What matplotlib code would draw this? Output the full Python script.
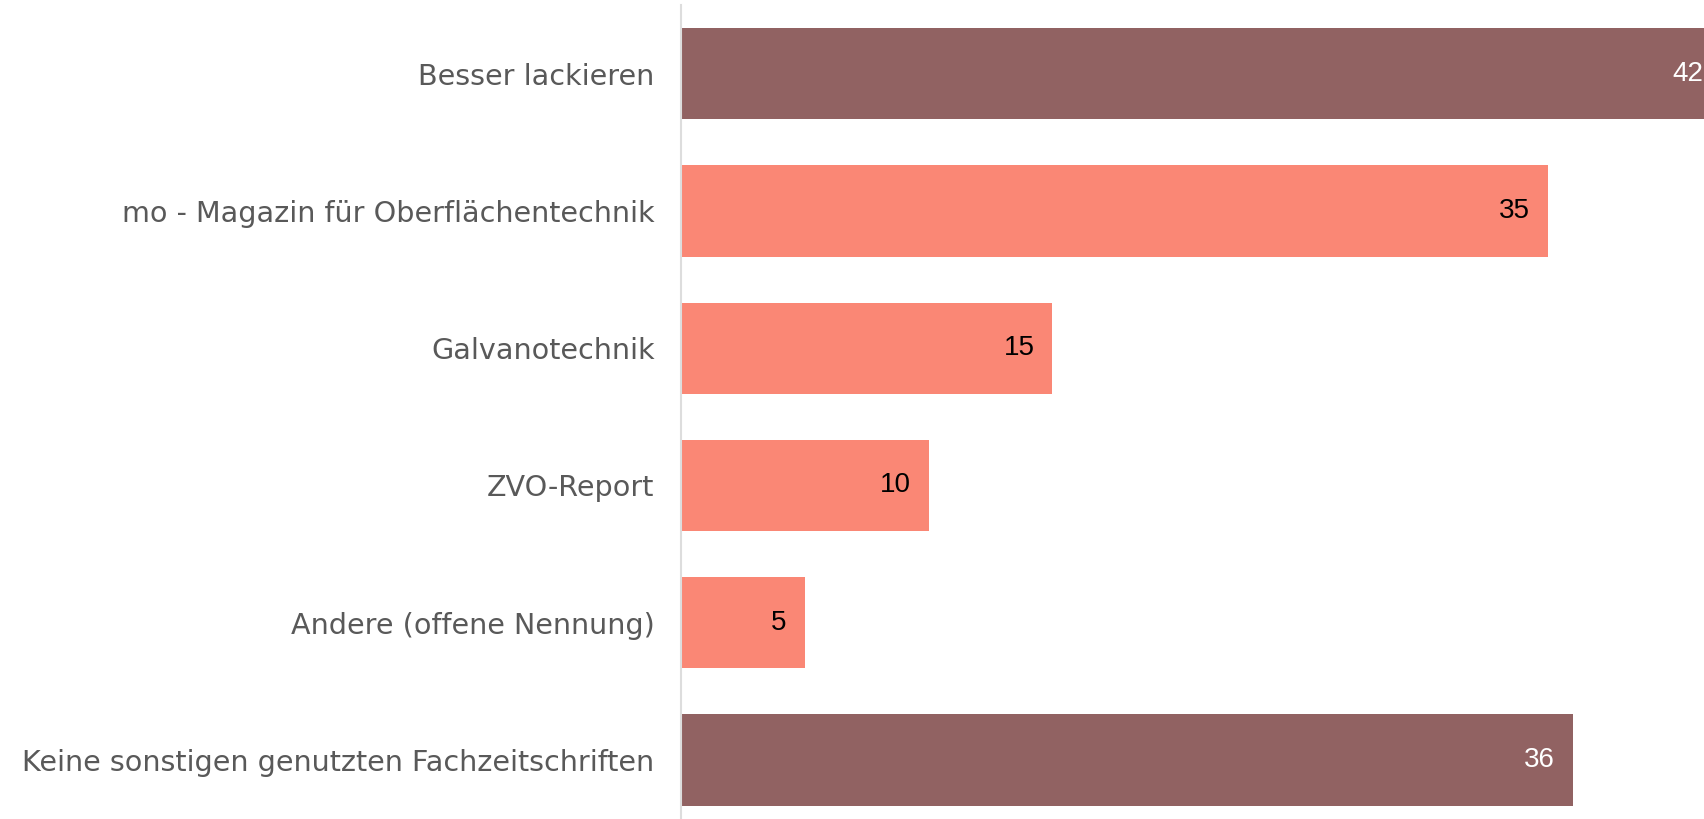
import matplotlib
matplotlib.use("Agg")
from matplotlib import pyplot as plt

categories = ["Besser lackieren", "mo - Magazin für Oberflächentechnik", "Galvanotechnik",
              "ZVO-Report", "Andere (offene Nennung)", "Keine sonstigen genutzten Fachzeitschriften"]
values = [42, 35, 15, 10, 5, 36]
highlight = [True, False, False, False, False, True]

dark = "#916262"
light = "#fa8775"

fig = plt.figure(figsize=(17.04, 8.19), dpi=100)
ax = fig.add_axes([0.3996, 0.0, 0.6004, 0.9939])

colors = [dark if h else light for h in highlight]
ypos = list(range(len(categories)))
ax.barh(ypos, values, height=0.665, color=colors)

# value labels inside the bar ends
for y, v, h in zip(ypos, values, highlight):
    ax.annotate(str(v), (v, y), xytext=(-13, 0), textcoords="offset points",
                ha="right", va="center", fontsize=20, family="Liberation Sans",
                color="white" if h else "black", annotation_clip=False)

ax.set_xlim(0, 41.3)
ax.set_ylim(5.43, -0.5)
ax.set_yticks(ypos)
ax.set_yticklabels(categories, fontsize=20.6, color="#595959", family="DejaVu Sans")
ax.tick_params(axis="y", length=0, pad=19)
ax.set_xticks([])
for s in ["top", "right", "bottom"]:
    ax.spines[s].set_visible(False)
ax.spines["left"].set_color("#dddddd")
ax.spines["left"].set_linewidth(1.5)

fig.savefig("out.png", dpi=100)
